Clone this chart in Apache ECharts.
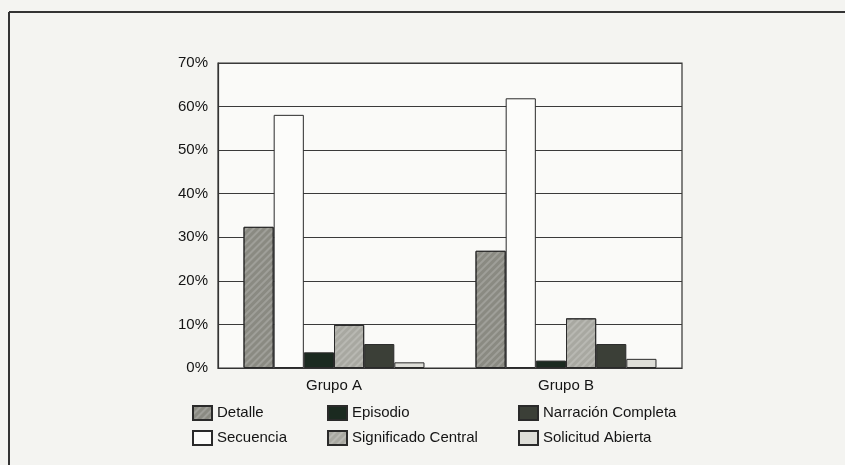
<!DOCTYPE html>
<html>
<head>
<meta charset="utf-8">
<script src="https://cdn.jsdelivr.net/npm/echarts@6/dist/echarts.min.js"></script>
<style>
html,body{margin:0;padding:0;background:#f4f4f1;}
#chart{width:845px;height:465px;}
</style>
</head>
<body>
<div id="chart"></div>
<script>
const categories = ['Grupo A', 'Grupo B'];
const detalle = [32.4, 26.9];
const secuencia = [58.1, 61.9];
const episodio = [3.6, 1.7];
const significadoCentral = [9.9, 11.4];
const narracionCompleta = [5.5, 5.5];
const solicitudAbierta = [1.3, 2.1];
const yTicks = [0, 10, 20, 30, 40, 50, 60, 70];

const hatch = {
  symbol: 'rect', symbolSize: 1,
  dashArrayX: [1, 0], dashArrayY: [1.5, 2.5],
  rotation: -Math.PI / 4,
  color: 'rgba(255,255,255,0.18)'
};
const border = { borderColor: '#2a2a2a', borderWidth: 1 };

const chart = echarts.init(document.getElementById('chart'), null, { renderer: 'canvas' });
const font = 'Liberation Sans, Arial, sans-serif';

function legendCol(left, names) {
  return {
    orient: 'vertical', left: left, top: 405, padding: 0,
    itemWidth: 19, itemHeight: 14, itemGap: 9, icon: 'rect',
    data: names, selectedMode: false,
    textStyle: { fontFamily: font, fontSize: 15, color: '#141414' }
  };
}

chart.setOption({
  backgroundColor: '#f4f4f1',
  animation: false,
  grid: { left: 218, right: 163, top: 63, bottom: 97, show: true, backgroundColor: '#fafaf8', borderColor: '#333', borderWidth: 1.2 },
  legend: [
    legendCol(192, ['Detalle', 'Secuencia']),
    legendCol(327, ['Episodio', 'Significado Central']),
    legendCol(518, ['Narración Completa', 'Solicitud Abierta'])
  ],
  xAxis: {
    type: 'category', data: categories,
    axisTick: { show: false },
    axisLine: { lineStyle: { color: '#333', width: 1.2 } },
    axisLabel: { fontFamily: font, fontSize: 15, color: '#141414', margin: 10 }
  },
  yAxis: {
    type: 'value', min: yTicks[0], max: yTicks[yTicks.length - 1], interval: 10,
    axisLine: { show: true, lineStyle: { color: '#333', width: 1.2 } },
    axisTick: { show: false },
    splitLine: { lineStyle: { color: '#3a3a3a', width: 1.2 } },
    axisLabel: { fontFamily: font, fontSize: 15, color: '#141414', margin: 10, formatter: '{value}%' }
  },
  series: [
    { name: 'Detalle', type: 'bar', data: detalle, barGap: '0%', barCategoryGap: '22%',
      itemStyle: Object.assign({ color: '#8a8a82', decal: hatch }, border) },
    { name: 'Secuencia', type: 'bar', data: secuencia,
      itemStyle: Object.assign({ color: '#fcfcfa' }, border) },
    { name: 'Episodio', type: 'bar', data: episodio,
      itemStyle: Object.assign({ color: '#1b2a20' }, border) },
    { name: 'Significado Central', type: 'bar', data: significadoCentral,
      itemStyle: Object.assign({ color: '#a8a8a1', decal: hatch }, border) },
    { name: 'Narración Completa', type: 'bar', data: narracionCompleta,
      itemStyle: Object.assign({ color: '#3b3f37' }, border) },
    { name: 'Solicitud Abierta', type: 'bar', data: solicitudAbierta,
      itemStyle: Object.assign({ color: '#deded8' }, border) }
  ],
  graphic: [
    { type: 'line', shape: { x1: 9, y1: 12, x2: 845, y2: 12 }, style: { stroke: '#333', lineWidth: 2 } },
    { type: 'line', shape: { x1: 9, y1: 12, x2: 9, y2: 465 }, style: { stroke: '#333', lineWidth: 2 } }
  ]
});
</script>
</body>
</html>
